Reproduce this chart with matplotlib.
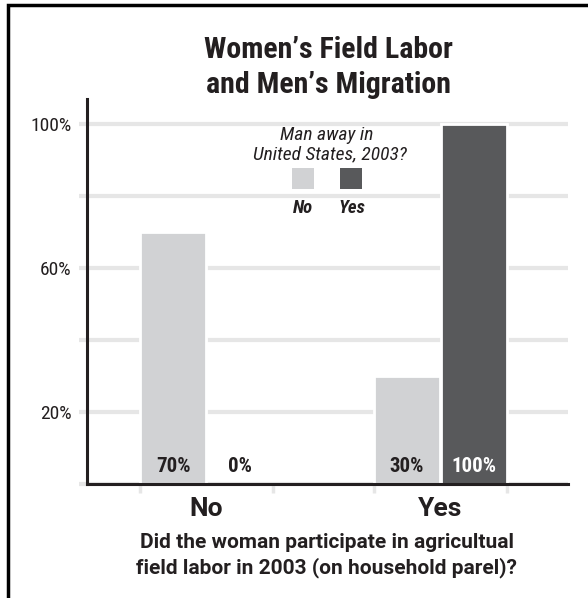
import matplotlib
matplotlib.use("Agg")
import matplotlib.pyplot as plt
from matplotlib.patches import Rectangle

# Data
categories = ["No", "Yes"]
series_names = ["No", "Yes"]
man_away_no = [70, 30]
man_away_yes = [0, 100]
bar_labels_no = ["70%", "30%"]
bar_labels_yes = ["0%", "100%"]
yticks = [20, 60, 100]
ytick_labels = ["20%", "60%", "100%"]
gridlines = [0, 20, 40, 60, 80, 100]

LIGHT = "#d1d2d4"
DARK = "#58595b"
TXT = "#231f20"
GRID = "#e6e6e6"
COND = ["Roboto Condensed", "DejaVu Sans"]
BOLD = ["Roboto", "DejaVu Sans"]

W, H = 588, 598
fig = plt.figure(figsize=(W / 100, H / 100), dpi=100)
fig.patch.set_facecolor("white")

L, R, B, T = 87, 568, 484, 99
ax = fig.add_axes([L / W, (H - B) / H, (R - L) / W, (B - T) / H])
ax.set_xlim(-0.511, 1.545)
ax.set_ylim(0, 106.9)

bw = 0.28
off = 0.143
xs = list(range(len(categories)))

for g in gridlines:
    ax.hlines(g, -0.545, 1.545, color=GRID, lw=3, zorder=0, clip_on=False)

ax.bar([x - off for x in xs], man_away_no, width=bw, color=LIGHT,
       edgecolor="white", linewidth=2, zorder=2)
ax.bar([x + off for x in xs], man_away_yes, width=bw, color=DARK,
       edgecolor="white", linewidth=2, zorder=2)

for x, lab in zip(xs, bar_labels_no):
    ax.text(x - off, 4.8, lab, ha="center", va="center", fontsize=15,
            fontweight="bold", color=TXT, family=COND, zorder=3)
for x, lab, v in zip(xs, bar_labels_yes, man_away_yes):
    ax.text(x + off, 4.8, lab, ha="center", va="center", fontsize=15,
            fontweight="bold", color="white" if v > 10 else TXT,
            family=COND, zorder=3)

# category edge ticks below axis
for x in xs:
    for e in (x - 2 * off, x + 2 * off):
        ax.plot([e, e], [0, -2.5], color=GRID, lw=2.5, clip_on=False,
                zorder=1, solid_capstyle="butt")

for s in ["top", "right"]:
    ax.spines[s].set_visible(False)
for s in ["left", "bottom"]:
    ax.spines[s].set_linewidth(2.2)
    ax.spines[s].set_color(TXT)
    ax.spines[s].set_zorder(4)

ax.set_yticks(yticks)
ax.set_yticklabels(ytick_labels, family=COND, fontsize=14, color=TXT)
ax.tick_params(axis="y", length=0, pad=11)
ax.set_xticks(xs)
ax.set_xticklabels(categories, fontsize=19, fontweight="bold",
                   family=BOLD, color=TXT)
ax.tick_params(axis="x", length=0, pad=9)

# Title
fig.text(328 / W, 1 - 50 / H, "Women\u2019s Field Labor", ha="center",
         va="center", fontsize=21.5, fontweight="bold", family=COND, color=TXT)
fig.text(329 / W, 1 - 85 / H, "and Men\u2019s Migration", ha="center",
         va="center", fontsize=21.5, fontweight="bold", family=COND, color=TXT)

# Legend
fig.text(327 / W, 1 - 135 / H, "Man away in", ha="center", va="center",
         fontsize=14, style="italic", family=COND, color=TXT)
fig.text(330 / W, 1 - 154 / H, "United States, 2003?", ha="center",
         va="center", fontsize=14, style="italic", family=COND, color=TXT)
sq_x = [292, 340]
sq_cols = [LIGHT, DARK]
lab_x = [303, 352]
for sx, c, lx, name in zip(sq_x, sq_cols, lab_x, series_names):
    fig.patches.append(Rectangle((sx / W, 1 - 189 / H), 22 / W, 21 / H,
                                 transform=fig.transFigure, facecolor=c,
                                 edgecolor="none"))
    fig.text(lx / W, 1 - 208 / H, name, ha="center", va="center",
             fontsize=13.5, style="italic", fontweight="bold", family=COND,
             color=TXT)

# X-axis label
fig.text(327 / W, 1 - 542 / H, "Did the woman participate in agricultual",
         ha="center", va="center", fontsize=15, fontweight="bold",
         family=BOLD, color=TXT)
fig.text(327 / W, 1 - 568 / H, "field labor in 2003 (on household parel)?",
         ha="center", va="center", fontsize=15, fontweight="bold",
         family=BOLD, color=TXT)

# Border (left and top visible)
fig.patches.append(Rectangle((7.5 / W, -0.1), 1.2, 1.1 - 5.5 / H,
                             transform=fig.transFigure, facecolor="none",
                             edgecolor="black", linewidth=2.5))

fig.savefig("out.png", dpi=100, facecolor="white")
